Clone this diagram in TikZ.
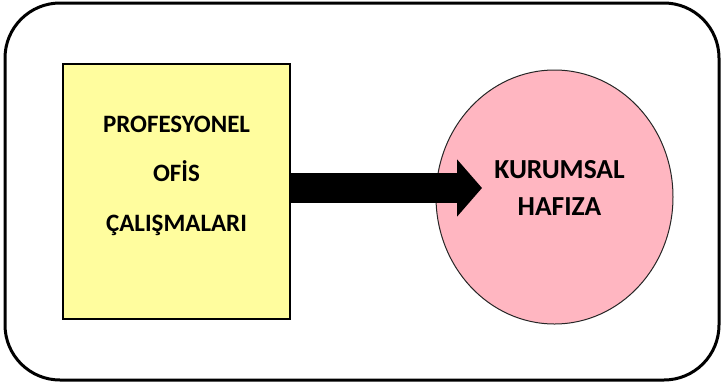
\documentclass[tikz,border=0pt]{standalone}
\usepackage{fontspec}
\setmainfont{Carlito}
\usetikzlibrary{arrows.meta,shapes.geometric}

\definecolor{ofisyellow}{RGB}{255,253,158}
\definecolor{hafizapink}{RGB}{255,182,193}

\begin{document}
\begin{tikzpicture}[x=1pt, y=-1pt,
    ofisbox/.style={draw, line width=2pt, fill=ofisyellow,
        minimum width=227pt, minimum height=255pt, inner sep=0pt},
    hafiza/.style={ellipse, draw=black!85, line width=1pt, fill=hafizapink,
        minimum width=237pt, minimum height=254pt, inner sep=0pt},
    lbl/.style={align=center, font=\bfseries\fontsize{25}{49.5}\selectfont},
    flow/.style={line width=30pt, -{Triangle[length=25pt, width=56pt]}}
]
    \useasboundingbox (0,0) rectangle (721,384);

    % outer frame
    \draw[line width=3pt, rounded corners=55pt] (5,3) rectangle (719,380);

    \node[ofisbox] (ofis) at (176.5,191.5) {};
    \node[lbl] (ofislbl) at ([yshift=16pt]ofis.center)
        {PROFESYONEL\\OFİS\\ÇALIŞMALARI};

    \node[hafiza] (kurum) at (554.5,197) {};
    \node[lbl, font=\bfseries\fontsize{27.5}{37}\selectfont] (kurumlbl)
        at ([xshift=5pt, yshift=9pt]kurum.center) {KURUMSAL\\HAFIZA};

    \coordinate (tip) at (482,188);
    \draw[flow] (ofis.east |- tip) -- (tip);
\end{tikzpicture}
\end{document}
